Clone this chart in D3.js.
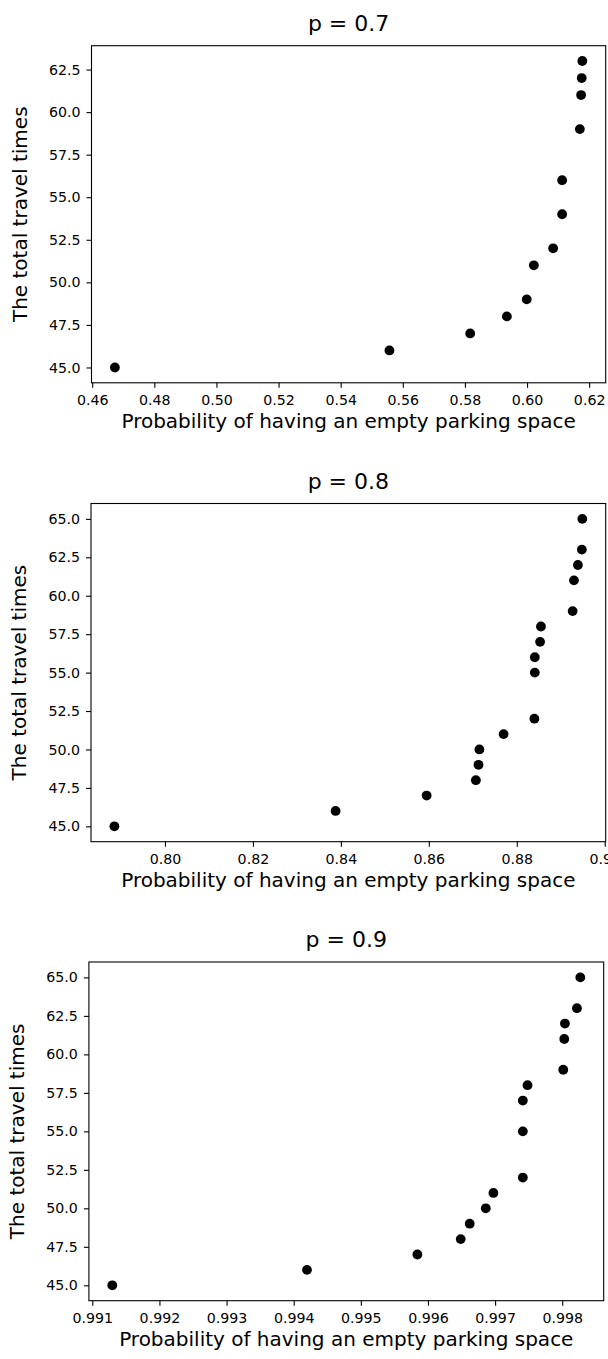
<!DOCTYPE html>
<html lang="en">
<head>
<meta charset="UTF-8">
<title>Travel times vs empty parking probability</title>
<style>
  body { margin: 0; background: #fff; }
  svg { display: block; font-family: "DejaVu Sans", sans-serif; }
  .tick text { fill: #000; }
  .tick line { stroke: #000; }
</style>
</head>
<body>
<svg width="608" height="1359"></svg>
<script src="https://cdn.jsdelivr.net/npm/d3@7/dist/d3.min.js"></script>
<script>
// ---- data ----
const titles = ["p = 0.7", "p = 0.8", "p = 0.9"];

const travel07 = [45, 46, 47, 48, 49, 51, 52, 54, 56, 59, 61, 62, 63];
const prob07   = [0.4673, 0.5557, 0.5817, 0.5935, 0.5999, 0.6022, 0.6084, 0.6113, 0.6113, 0.6170, 0.6174, 0.6176, 0.6178];

const travel08 = [45, 46, 47, 48, 49, 50, 51, 52, 55, 56, 57, 58, 59, 61, 62, 63, 65];
const prob08   = [0.7885, 0.8388, 0.8595, 0.8707, 0.8713, 0.8715, 0.8770, 0.8840, 0.8841, 0.8841, 0.8853, 0.8855, 0.8927, 0.8930, 0.8939, 0.8948, 0.8949];

const travel09 = [45, 46, 47, 48, 49, 50, 51, 52, 55, 57, 58, 59, 61, 62, 63, 65];
const prob09   = [0.991298, 0.994198, 0.995842, 0.996488, 0.996622, 0.996861, 0.996975, 0.997413, 0.997413, 0.997413, 0.997483, 0.998015, 0.998030, 0.998040, 0.998219, 0.998269];

const yTicks07 = [45, 47.5, 50, 52.5, 55, 57.5, 60, 62.5];
const yTicks = [45, 47.5, 50, 52.5, 55, 57.5, 60, 62.5, 65];
const xTicks07 = [0.46, 0.48, 0.50, 0.52, 0.54, 0.56, 0.58, 0.60, 0.62];
const xTicks08 = [0.80, 0.82, 0.84, 0.86, 0.88, 0.90];
const xTicks09 = [0.991, 0.992, 0.993, 0.994, 0.995, 0.996, 0.997, 0.998];

const xLabel = "Probability of having an empty parking space";
const yLabel = "The total travel times";

// ---- layout (pixel boxes of each axes) ----
const boxes = [
  { left: 91.5, right: 605.7, top: 45.7, bottom: 382.8 },
  { left: 91.0, right: 605.7, top: 503.5, bottom: 841.7 },
  { left: 88.9, right: 603.7, top: 962.0, bottom: 1300.7 }
];

const panels = [
  { title: titles[0], x: prob07, y: travel07, xt: xTicks07, yt: yTicks07, xf: ".2f", box: boxes[0] },
  { title: titles[1], x: prob08, y: travel08, xt: xTicks08, yt: yTicks, xf: ".2f", box: boxes[1] },
  { title: titles[2], x: prob09, y: travel09, xt: xTicks09, yt: yTicks, xf: ".3f", box: boxes[2] }
];

const svg = d3.select("svg");

// matplotlib style 5% margins around the data
function padded(vals) {
  const [a, b] = d3.extent(vals);
  const m = (b - a) * 0.05;
  return [a - m, b + m];
}

panels.forEach(p => {
  const b = p.box;
  const x = d3.scaleLinear().domain(padded(p.x)).range([b.left, b.right]);
  const y = d3.scaleLinear().domain(padded(p.y)).range([b.bottom, b.top]);

  const g = svg.append("g");

  // points
  g.selectAll("circle")
    .data(p.x.map((v, i) => [v, p.y[i]]))
    .enter().append("circle")
    .attr("cx", d => x(d[0]))
    .attr("cy", d => y(d[1]))
    .attr("r", 4.9)
    .attr("fill", "#000");

  // axes
  const xa = g.append("g")
    .attr("transform", `translate(0,${b.bottom})`)
    .call(d3.axisBottom(x).tickValues(p.xt).tickFormat(d3.format(p.xf)).tickSizeOuter(0).tickSize(5).tickPadding(7));
  xa.select(".domain").remove();
  xa.selectAll("text").attr("font-size", "14.2px").attr("font-family", "DejaVu Sans, sans-serif");
  xa.selectAll("line").attr("stroke-width", 1.1);

  const ya = g.append("g")
    .attr("transform", `translate(${b.left},0)`)
    .call(d3.axisLeft(y).tickValues(p.yt).tickFormat(d3.format(".1f")).tickSizeOuter(0).tickSize(5).tickPadding(6));
  ya.select(".domain").remove();
  ya.selectAll("text").attr("font-size", "14.2px").attr("font-family", "DejaVu Sans, sans-serif");
  ya.selectAll("line").attr("stroke-width", 1.1);

  // frame
  g.append("rect")
    .attr("x", b.left).attr("y", b.top)
    .attr("width", b.right - b.left).attr("height", b.bottom - b.top)
    .attr("fill", "none").attr("stroke", "#000").attr("stroke-width", 1.1);

  // title
  g.append("text")
    .attr("x", (b.left + b.right) / 2)
    .attr("y", b.top - 15)
    .attr("text-anchor", "middle")
    .attr("font-size", "22px")
    .text(p.title);

  // axis labels
  g.append("text")
    .attr("x", (b.left + b.right) / 2)
    .attr("y", b.bottom + 45.5)
    .attr("text-anchor", "middle")
    .attr("font-size", "20px")
    .text(xLabel);

  g.append("text")
    .attr("transform", `translate(${b.left - 65},${(b.top + b.bottom) / 2}) rotate(-90)`)
    .attr("text-anchor", "middle")
    .attr("font-size", "20px")
    .text(yLabel);
});
</script>
</body>
</html>
